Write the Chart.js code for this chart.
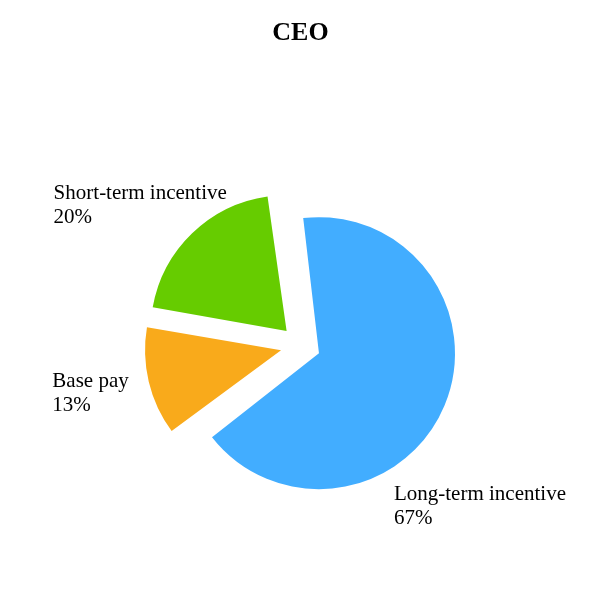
<!DOCTYPE html>
<html>
<head>
<meta charset="utf-8">
<script src="https://cdn.jsdelivr.net/npm/chart.js@4"></script>
<style>
  body { margin: 0; background: #fff; }
  #wrap { width: 600px; height: 600px; }
</style>
</head>
<body>
<div id="wrap"><canvas id="ceoChart"></canvas></div>
<script>
// CEO pay mix
const categories = ["Long-term incentive", "Base pay", "Short-term incentive"];
const shares = [67, 13, 20];

const sliceColors = ["#42adff", "#f9aa1b", "#66cc00"];
const pieRadius = 136;
const pullOut = 80; // v4 moves a slice by offset / 4

// label spot: angle shift (deg) from slice middle, distance from centre
const labelShift = [19, 1, -4.5];
const labelDist = [240, 215, 214];

Chart.defaults.font.family = "'Liberation Serif', 'Times New Roman', serif";
Chart.defaults.color = "#000";

// keep every slice the same size once pulled out
const samePullRadius = {
    id: "samePullRadius",
    afterDatasetsUpdate(chart) {
        chart.getDatasetMeta(0).data.forEach(arc => {
            const move = (arc.options.offset || 0) / 4;
            const fix = 1 - Math.sin(Math.min(Math.PI, arc.circumference));
            arc.outerRadius = pieRadius - move * fix;
        });
    }
};

// name + percent beside each slice
const sliceLabels = {
    id: "sliceLabels",
    afterDatasetsDraw(chart) {
        const ctx = chart.ctx;
        const total = shares.reduce((a, b) => a + b, 0);
        ctx.save();
        ctx.font = "21px 'Liberation Serif', 'Times New Roman', serif";
        ctx.fillStyle = "#000";
        ctx.textAlign = "left";
        ctx.textBaseline = "alphabetic";
        chart.getDatasetMeta(0).data.forEach((arc, i) => {
            const mid = (arc.startAngle + arc.endAngle) / 2 + labelShift[i] * Math.PI / 180;
            const cx = arc.x + Math.cos(mid) * labelDist[i];
            const cy = arc.y + Math.sin(mid) * labelDist[i];
            const lines = [categories[i], Math.round(shares[i] / total * 100) + "%"];
            const w = Math.max(...lines.map(t => ctx.measureText(t).width));
            ctx.fillText(lines[0], cx - w / 2, cy - 5);
            ctx.fillText(lines[1], cx - w / 2, cy + 19);
        });
        ctx.restore();
    }
};

const ceoCtx = document.getElementById("ceoChart");

new Chart(ceoCtx, {
    type: "pie",
    data: {
        labels: categories,
        datasets: [{
            data: shares,
            backgroundColor: sliceColors,
            borderWidth: 0,
            offset: pullOut
        }]
    },
    options: {
        responsive: true,
        maintainAspectRatio: false,
        animation: false,
        events: [],
        rotation: -8,
        radius: pieRadius,
        layout: {
            padding: { top: 0, left: 11, right: 10, bottom: 10 }
        },
        plugins: {
            legend: { display: false },
            tooltip: { enabled: false },
            title: {
                display: true,
                text: "CEO",
                color: "#000",
                font: { size: 26, weight: "bold" },
                padding: { top: 18, bottom: 51.8 }
            }
        }
    },
    plugins: [samePullRadius, sliceLabels]
});
</script>
</body>
</html>
